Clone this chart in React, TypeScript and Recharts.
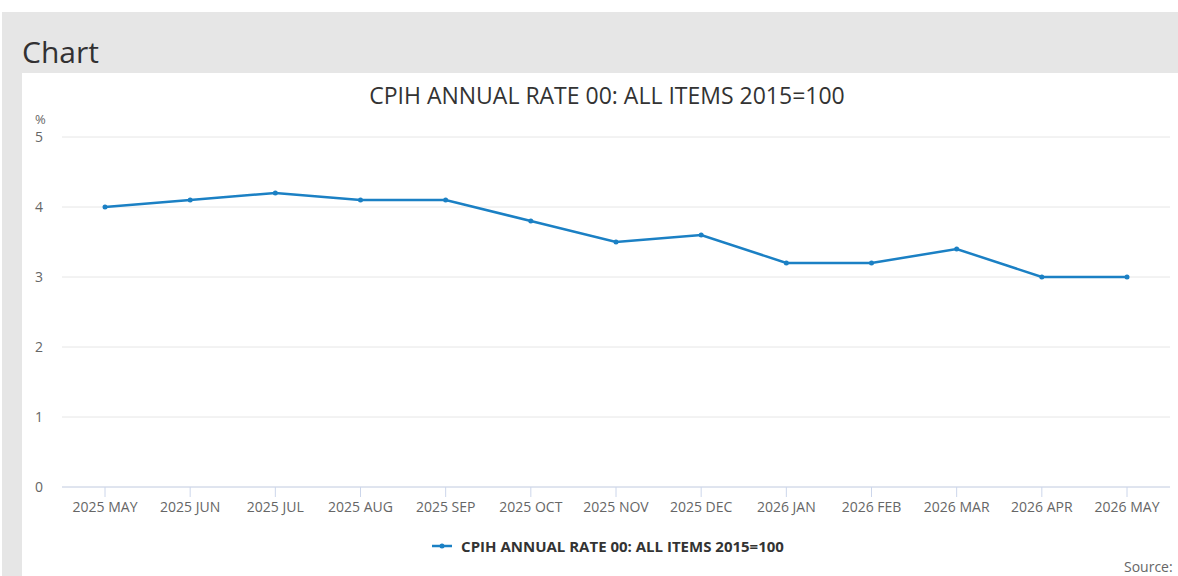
import React from 'react';
import { LineChart, Line, XAxis, YAxis, CartesianGrid } from 'recharts';

const months = [
  '2025 MAY', '2025 JUN', '2025 JUL', '2025 AUG', '2025 SEP', '2025 OCT', '2025 NOV',
  '2025 DEC', '2026 JAN', '2026 FEB', '2026 MAR', '2026 APR', '2026 MAY',
];
const rates = [4.0, 4.1, 4.2, 4.1, 4.1, 3.8, 3.5, 3.6, 3.2, 3.2, 3.4, 3.0, 3.0];
const yTicks = [0, 1, 2, 3, 4, 5];

const seriesName = 'CPIH ANNUAL RATE 00: ALL ITEMS 2015=100';
const lineColor = '#1b80c4';
const font = '"Open Sans", "Noto Sans", sans-serif';

const data = months.map((m, i) => ({ month: m, rate: rates[i] }));

const YTick = (props: any) => {
  const { y, payload } = props;
  return (
    <text x={13} y={y} dy={5} fill="#666" fontSize={14} fontFamily={font} textAnchor="start">
      {payload.value}
    </text>
  );
};

const App: React.FC = () => {
  return (
    <div style={{ position: 'fixed', left: 0, top: 0, width: 1178, height: 576, overflow: 'hidden', background: '#fff', fontFamily: font }}>
      <div style={{ position: 'absolute', left: 2, top: 12, width: 1200, height: 600, background: '#e6e6e6' }} />
      <div style={{ position: 'absolute', left: 22, top: 34, fontSize: 30, color: '#323132', lineHeight: '36px' }}>Chart</div>
      <div style={{ position: 'absolute', left: 22, top: 73, width: 1170, height: 520, background: '#fff' }}>
        <div style={{ position: 'absolute', left: 0, top: 7, width: 1170, textAlign: 'center', fontSize: 23, color: '#333', lineHeight: '30px' }}>
          {seriesName}
        </div>
        <div style={{ position: 'absolute', left: 13, top: 37, fontSize: 13, color: '#666' }}>%</div>
        <LineChart width={1170} height={444} data={data} margin={{ top: 64, right: 22, bottom: 0, left: 0 }}>
          <CartesianGrid vertical={false} stroke="#e6e6e6" />
          <XAxis
            dataKey="month"
            height={30}
            padding={{ left: 43, right: 43 }}
            axisLine={{ stroke: '#ccd6eb' }}
            tickLine={{ stroke: '#ccd6eb' }}
            tickSize={10}
            tickMargin={5}
            interval={0}
            tick={{ fill: '#666', fontSize: 14, fontFamily: font }}
          />
          <YAxis
            width={40}
            domain={[0, 5]}
            ticks={yTicks}
            axisLine={false}
            tickLine={false}
            tick={<YTick />}
          />
          <Line
            dataKey="rate"
            name={seriesName}
            stroke={lineColor}
            strokeWidth={2.5}
            dot={{ r: 2.5, fill: lineColor, stroke: lineColor, strokeWidth: 0 }}
            isAnimationActive={false}
          />
        </LineChart>
        <div style={{ position: 'absolute', left: 0, top: 463, width: 1170, display: 'flex', justifyContent: 'center', alignItems: 'center' }}>
          <svg width={26} height={12} style={{ marginRight: 5 }}>
            <line x1={2} y1={6} x2={22} y2={6} stroke={lineColor} strokeWidth={2.5} />
            <circle cx={12} cy={6} r={2.5} fill={lineColor} />
          </svg>
          <span style={{ fontSize: 15, fontWeight: 700, color: '#333' }}>{seriesName}</span>
        </div>
        <div style={{ position: 'absolute', left: 1102, top: 486, fontSize: 14, lineHeight: '16px', color: '#666' }}>Source:</div>
      </div>
    </div>
  );
};

export default App;
